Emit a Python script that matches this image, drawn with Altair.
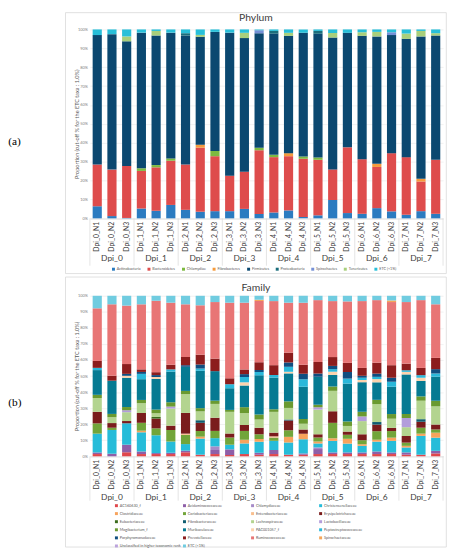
import altair as alt
import pandas as pd

# ---------------- categories ----------------
groups = ["Dpi_0", "Dpi_1", "Dpi_2", "Dpi_3", "Dpi_4", "Dpi_5", "Dpi_6", "Dpi_7"]
reps = ["N1", "N2", "N3"]
samples = [f"{g}_{r}" for g in groups for r in reps]

# ---------------- Phylum (%) ----------------
phylum_names = ["Actinobacteria", "Bacteroidetes", "Chlamydiae", "Fibrobacteres", "Firmicutes",
                "Proteobacteria", "Spirochaetes", "Tenericutes", "ETC (<1%)"]
phylum_colors = ["#2b7bc0", "#de4c4c", "#7cb940", "#f59a3c", "#0b4870",
                 "#1b6e7c", "#7590d6", "#a8cf7c", "#28bfd9"]

p_actinobacteria = [6.4, 1.2, 0.2, 5.2, 4.0, 7.1, 4.5, 3.5, 3.8, 3.8, 5.0, 2.3, 3.1, 4.2, 0.7, 1.6, 9.7, 2.8, 2.4, 5.4, 3.7, 1.9, 3.8, 2.4]
p_bacteroidetes = [22.1, 24.6, 27.5, 19.9, 23.0, 23.4, 24.0, 33.9, 29.1, 18.8, 19.7, 33.7, 29.3, 28.7, 30.8, 29.4, 16.2, 34.8, 28.9, 21.8, 30.8, 30.5, 15.7, 28.6]
p_chlamydiae = [0, 0, 0, 1.4, 1.2, 1.2, 0, 0, 2.8, 0, 0, 1.4, 1.2, 0, 1.2, 1.2, 0, 0, 0, 0, 0, 0, 0, 0]
p_fibrobacteres = [0, 0, 0, 0, 0, 0, 0, 1.6, 0, 0, 0, 0, 0, 1.6, 0, 0, 0, 0, 0, 1.7, 0, 0, 1.4, 0]
p_firmicutes = [68.5, 71.7, 65.9, 71.8, 68.6, 66.6, 68.3, 57.1, 63.0, 75.7, 70.7, 60.6, 64.2, 62.1, 65.5, 65.5, 69.8, 60.6, 65.3, 67.4, 62.5, 62.6, 75.4, 65.8]
p_proteobacteria = [0, 0, 0, 0, 0, 0, 1.2, 0, 0, 0, 0, 0, 1.4, 0, 0, 1.5, 0, 0, 0, 0, 0, 0, 0, 0]
p_spirochaetes = [0, 0, 0, 0, 0, 0, 0, 0, 0, 0, 0, 1.6, 0, 0, 0, 0, 0, 0, 0, 0, 1.5, 0, 0, 0]
p_tenericutes = [0, 0, 2.6, 0, 2.4, 0, 0, 1.0, 0, 0, 2.8, 0, 0, 1.6, 0, 0, 2.4, 0, 1.9, 2.4, 0, 2.8, 2.9, 1.2]
p_etc = [3.0, 2.5, 3.7, 1.7, 0.8, 1.7, 2.0, 2.9, 1.3, 1.7, 1.8, 0.4, 0.8, 1.8, 1.8, 0.8, 1.9, 1.8, 1.5, 1.3, 1.5, 2.2, 0.8, 2.0]

phylum_values = [p_actinobacteria, p_bacteroidetes, p_chlamydiae, p_fibrobacteres, p_firmicutes,
                 p_proteobacteria, p_spirochaetes, p_tenericutes, p_etc]

# ---------------- Family (%) ----------------
family_names = ["AC160630_f", "Acidaminococcaceae", "Chlamydiaceae", "Christensenellaceae",
                "Clostridiaceae", "Coriobacteriaceae", "Enterobacteriaceae", "Erysipelotrichaceae",
                "Eubacteriaceae", "Fibrobacteraceae", "Lachnospiraceae", "Lactobacillaceae",
                "Mogibacterium_f", "Muribaculaceae", "PAC001057_f", "Peptostreptococcaceae",
                "Porphyromonadaceae", "Prevotellaceae", "Ruminococcaceae", "Spirochaetaceae",
                "Unclassified in higher taxonomic rank", "ETC (<1%)"]
family_colors = ["#e0474c", "#8e5fa8", "#a58bc8", "#26bcd9",
                 "#f7a35c", "#72a53a", "#f9bf8f", "#7a1c1c",
                 "#3b6b1c", "#0f5d70", "#b3d48f", "#b39ddb",
                 "#6a9a30", "#067a92", "#fcd3ad", "#2ab8da",
                 "#104e80", "#8c1d1d", "#e87575", "#f6a65a",
                 "#bba3dc", "#70cce0"]

f_ac160630 = [1.4, 0, 2.5, 1.4, 1.4, 1.4, 2.5, 1.0, 1.4, 0.8, 1.4, 1.0, 1.4, 1.0, 1.0, 1.4, 1.4, 1.4, 1.4, 1.4, 1.4, 1.0, 1.0, 1.8]
f_acidaminococcaceae = [1.0, 1.6, 4.7, 1.6, 0.6, 0.8, 1.0, 0, 2.5, 3.5, 0, 1.2, 2.5, 0, 0.8, 3.1, 1.0, 1.0, 1.0, 1.6, 1.0, 1.4, 0, 1.6]
f_chlamydiaceae = [0, 0, 0, 0, 0, 0, 0, 0, 2.3, 0, 0, 0, 0, 0, 0, 1.0, 0, 0, 0, 0, 0, 0, 0, 0]
f_christensenellaceae = [11.7, 14.8, 13.3, 11.9, 11.1, 7.0, 4.1, 10.0, 5.1, 2.9, 6.6, 6.8, 5.7, 7.6, 8.8, 2.5, 7.2, 5.5, 4.1, 6.1, 7.2, 3.1, 11.7, 8.2]
f_clostridiaceae = [0, 0, 0, 1.0, 0, 0, 0, 1.2, 0, 0, 2.3, 1.8, 0, 3.5, 3.5, 1.2, 1.6, 3.0, 1.0, 1.2, 2.0, 1.0, 1.4, 3.1]
f_coriobacteriaceae = [6.4, 1.4, 0, 4.9, 4.3, 7.2, 5.7, 3.5, 4.5, 4.5, 5.5, 2.9, 2.0, 4.1, 0, 2.5, 9.6, 2.5, 2.5, 5.3, 4.1, 2.0, 3.7, 2.0]
f_enterobacteriaceae = [0, 0, 0, 0, 0, 0, 0.8, 0, 0, 0, 0, 0, 0.8, 0, 0, 0, 0, 0, 0, 0, 0, 0, 0, 0]
f_erysipelotrichaceae = [7.2, 2.9, 1.4, 6.1, 6.1, 2.7, 12.9, 5.1, 8.2, 2.5, 3.7, 4.1, 2.3, 6.1, 2.7, 2.0, 7.2, 2.0, 3.7, 4.1, 2.0, 4.1, 3.7, 3.1]
f_eubacteriaceae = [0, 0, 0, 0, 1.0, 0, 0, 0, 0, 0, 0, 0, 0, 0, 0, 0, 0, 0, 0, 0, 0, 0, 0, 0]
f_fibrobacteraceae = [0, 0, 0, 0, 0, 0, 0, 1.6, 0, 0, 0, 0, 0, 0.6, 0, 0, 0, 0, 0, 1.6, 0, 0, 1.6, 0]
f_lachnospiraceae = [8.6, 3.7, 5.5, 6.1, 2.3, 10.7, 11.7, 5.5, 8.6, 13.5, 7.4, 5.1, 12.9, 7.2, 3.5, 15.4, 12.7, 3.5, 8.2, 11.1, 5.7, 5.5, 11.5, 11.3]
f_lactobacillaceae = [0, 0, 1.2, 0, 0, 1.2, 0, 0, 0, 0, 0, 0, 0, 0, 0, 1.4, 0, 0, 2.9, 0, 0, 5.7, 0, 0]
f_mogibacterium = [2.0, 2.0, 2.0, 2.0, 2.3, 2.7, 2.0, 2.0, 2.0, 1.2, 3.7, 3.1, 1.6, 4.1, 3.1, 1.6, 2.7, 2.8, 2.9, 2.7, 2.9, 2.5, 2.7, 3.5]
f_muribaculaceae = [15.4, 20.7, 18.2, 12.9, 19.1, 19.1, 15.0, 23.2, 18.4, 13.5, 13.5, 24.6, 19.7, 17.4, 20.1, 17.4, 7.2, 23.6, 18.4, 10.9, 17.0, 24.6, 9.6, 15.0]
f_pac001057 = [0, 0, 1.2, 0, 1.2, 0, 0, 0, 0, 0, 2.0, 0, 0, 1.0, 0, 0, 2.0, 0, 1.4, 2.0, 0, 1.6, 2.0, 0]
f_peptostreptococcaceae = [1.4, 0, 0, 3.3, 0, 1.4, 0, 1.4, 0, 2.5, 3.3, 2.0, 1.6, 3.1, 4.7, 0, 1.6, 3.1, 1.4, 1.4, 3.1, 1.0, 1.6, 2.0]
f_porphyromonadaceae = [0, 0, 1.2, 1.2, 1.2, 0, 1.0, 2.5, 0, 0, 1.8, 1.2, 0, 2.7, 3.5, 2.0, 2.0, 4.1, 1.2, 2.0, 2.5, 0, 0, 2.7]
f_prevotellaceae = [4.3, 3.1, 6.1, 1.6, 1.8, 2.9, 5.1, 6.1, 7.8, 3.7, 2.9, 4.9, 6.1, 6.1, 5.5, 7.2, 5.5, 5.7, 4.9, 6.8, 7.8, 4.1, 4.5, 7.0]
f_ruminococcaceae = [32.8, 44.5, 36.3, 40.4, 44.5, 38.7, 32.8, 30.7, 35.2, 47.1, 41.6, 38.1, 39.8, 31.1, 38.9, 38.5, 34.8, 38.3, 41.6, 38.9, 39.3, 38.3, 42.2, 33.4]
f_spirochaetaceae = [0, 0, 0, 0, 0, 0, 0, 0, 0, 0, 0, 0.8, 0, 0, 0, 0, 0, 0, 0, 0, 1.0, 0, 0, 0]
f_unclassified = [0, 0, 0, 0, 0, 0, 0, 0, 0, 0, 0, 0, 0, 0, 0, 0, 0, 0, 0, 0, 0, 0, 0, 0]
f_etc = [7.8, 5.3, 6.1, 5.3, 3.1, 4.3, 5.3, 5.9, 3.9, 4.3, 4.3, 2.5, 3.3, 4.3, 4.3, 2.7, 3.3, 3.5, 3.3, 2.7, 2.9, 3.9, 2.7, 5.3]

family_values = [f_ac160630, f_acidaminococcaceae, f_chlamydiaceae, f_christensenellaceae,
                 f_clostridiaceae, f_coriobacteriaceae, f_enterobacteriaceae, f_erysipelotrichaceae,
                 f_eubacteriaceae, f_fibrobacteraceae, f_lachnospiraceae, f_lactobacillaceae,
                 f_mogibacterium, f_muribaculaceae, f_pac001057, f_peptostreptococcaceae,
                 f_porphyromonadaceae, f_prevotellaceae, f_ruminococcaceae, f_spirochaetaceae,
                 f_unclassified, f_etc]

y_title = "Proportion (cut-off % for the ETC taxa : 1.0%)"

# ---------------- layout / style ----------------
FONT = "Lato"
W = 358
HA = 191.5
HB = 162.7
PI = 0.377
PO = PI / 2
STEP = W / (len(samples) - PI + 2 * PO)
HALF_GAP = STEP * PI / 2


def long_df(names, values):
    rows = []
    for k, (n, vals) in enumerate(zip(names, values)):
        for s, v in zip(samples, vals):
            if v > 0:
                rows.append({"sample": s, "taxon": n, "value": v, "k": k})
    return pd.DataFrame(rows)


group_df = pd.DataFrame({
    "group": groups,
    "sample": [f"{g}_N2" for g in groups],
})
first_df = pd.DataFrame({"sample": [f"{g}_N1" for g in groups]})
end_df = pd.DataFrame({"sample": [samples[-1]]})

x_axis = alt.Axis(labelAngle=-90, labelFontSize=6.9, labelFont=FONT,
                  labelColor="#404040", ticks=False, domain=True,
                  domainColor="#d9d9d9", domainWidth=0.7, labelPadding=3,
                  labelOverlap=False, grid=False, title=None)


def panel(names, colors, values, H, title, title_dy, letter, letter_y,
          legend, grp_y, sep_len, box_top, box_bottom):
    df = long_df(names, values)
    xscale = alt.Scale(domain=samples, paddingInner=PI, paddingOuter=PO)

    bars = alt.Chart(df).mark_bar().encode(
        x=alt.X("sample:N", sort=samples, scale=xscale, axis=x_axis),
        y=alt.Y("value:Q", stack="normalize",
                scale=alt.Scale(domain=[0, 1], nice=False),
                axis=alt.Axis(format="%", values=[i / 10 for i in range(11)],
                              labelFontSize=4, labelFont=FONT, labelColor="#7f7f7f",
                              labelPadding=2.5, domain=False, ticks=False, grid=True,
                              gridColor="#e8e8e8", gridWidth=0.6,
                              title=y_title, titleFontSize=5.6, titleFont=FONT,
                              titleColor="#595959", titleFontWeight="normal",
                              titleX=-13.7, titleY=H / 2, titleAngle=270,
                              titleAlign="center", titleBaseline="middle")),
        color=alt.Color("taxon:N", scale=alt.Scale(domain=names, range=colors),
                        legend=legend),
        order=alt.Order("k:Q", sort="ascending"),
    )

    grp = alt.Chart(group_df).mark_text(
        font=FONT, fontSize=8.5, color="#404040", baseline="middle", align="center"
    ).encode(
        x=alt.X("sample:N", sort=samples, scale=xscale, axis=x_axis),
        y=alt.value(H + grp_y),
        text="group:N",
    )

    seps = alt.Chart(first_df).mark_rule(color="#d9d9d9", strokeWidth=0.7,
                                         xOffset=-HALF_GAP).encode(
        x=alt.X("sample:N", sort=samples, scale=xscale, axis=x_axis, bandPosition=0),
        y=alt.value(H),
        y2=alt.value(H + sep_len),
    )
    sep_end = alt.Chart(end_df).mark_rule(color="#d9d9d9", strokeWidth=0.7,
                                          xOffset=HALF_GAP).encode(
        x=alt.X("sample:N", sort=samples, scale=xscale, axis=x_axis, bandPosition=1),
        y=alt.value(H),
        y2=alt.value(H + sep_len),
    )

    one = pd.DataFrame({"t": [title], "l": [letter]})
    ttl = alt.Chart(one).mark_text(
        font=FONT, fontSize=10.5, color="#404040", align="center", baseline="alphabetic"
    ).encode(x=alt.value(168.3), y=alt.value(title_dy), text="t:N")

    let = alt.Chart(one).mark_text(
        font="Liberation Serif", fontSize=11.5, color="#000000", align="left",
        baseline="middle"
    ).encode(x=alt.value(-82.7), y=alt.value(letter_y), text="l:N")

    box = alt.Chart(one).mark_rect(fillOpacity=0, stroke="#d9d9d9", strokeWidth=0.8).encode(
        x=alt.value(-24.7), x2=alt.value(W + 3.3),
        y=alt.value(box_top), y2=alt.value(box_bottom),
    )

    return alt.layer(bars, grp, seps, sep_end, box, ttl, let).properties(width=W, height=H)


leg_a = alt.Legend(orient="none", legendX=22, legendY=HA + 49.5, direction="horizontal",
                   columns=9, title=None, symbolType="square", symbolSize=9,
                   symbolStrokeWidth=0, labelFontSize=3.8, labelFont=FONT,
                   labelColor="#595959", columnPadding=6, labelOffset=1.5)
leg_b = alt.Legend(orient="none", legendX=25, legendY=HB + 48, direction="horizontal",
                   columns=4, gridAlign="all", title=None, symbolType="square",
                   symbolSize=9, symbolStrokeWidth=0, labelFontSize=3.8, labelFont=FONT,
                   labelColor="#595959", columnPadding=1, rowPadding=3.2, labelOffset=1.5)

chart_a = panel(phylum_names, phylum_colors, phylum_values, HA, "Phylum", -8.5, "(a)", 114.5,
                leg_a, 40.5, 48, -17, HA + 56)
chart_b = panel(family_names, family_colors, family_values, HB, "Family", -5, "(b)", 109,
                leg_b, 41.5, 45, -19, HB + 92)

chart = alt.vconcat(chart_a, chart_b, spacing=2).resolve_scale(color="independent").properties(
    padding=0, background="white"
).configure_view(stroke=None)

chart.save("out.html", embed_options={"renderer": "svg", "actions": False})
